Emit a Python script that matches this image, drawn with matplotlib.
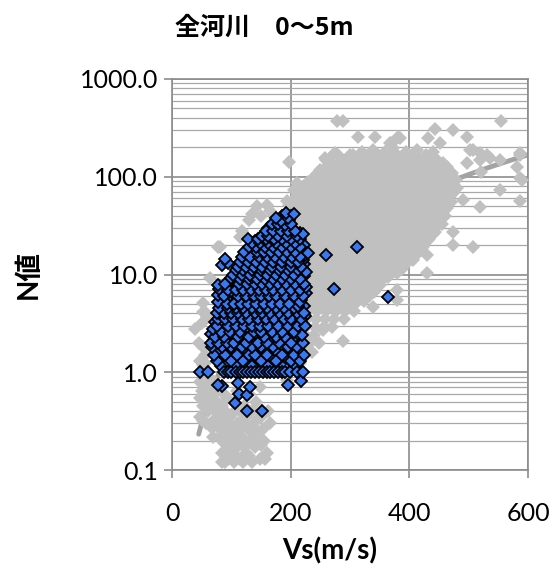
import numpy as np
import matplotlib
matplotlib.use('Agg')  # headless
import matplotlib.pyplot as plt
from matplotlib.ticker import FixedLocator, FuncFormatter, NullFormatter

# ---- data: (Vs [m/s], N) ----
# grey series: all depths / all rivers
gray_low = [
    (47, 0.55), (47, 0.35), (52, 0.45), (52, 0.32), (58, 0.7), (62, 0.9), (67, 0.27),
    (70, 0.6), (72, 0.4), (75, 0.5), (78, 0.3), (80, 0.22), (82, 0.35), (85, 0.15),
    (88, 0.25), (90, 0.12), (92, 0.18), (95, 0.3), (98, 0.14), (100, 0.2), (103, 0.38),
    (105, 0.12), (108, 0.25), (110, 0.17), (112, 0.3), (115, 0.13), (118, 0.22),
    (120, 0.32), (122, 0.45), (125, 0.15), (128, 0.27), (130, 0.6), (132, 0.2),
    (135, 0.4), (138, 0.3), (140, 0.17), (142, 0.5), (145, 0.24), (148, 0.13),
    (150, 0.35), (153, 0.26), (157, 0.13), (160, 0.15), (162, 0.4), (165, 0.3),
    (93, 0.55), (110, 0.65), (148, 0.7), (69, 0.22), (80, 0.38), (194, 0.83),
    (216, 1.24), (228, 1.56), (47, 1.3), (52, 1.8), (52, 1.2), (56, 1.23),
    (50, 0.65), (55, 0.5), (60, 0.4), (57, 0.3), (64, 0.55), (66, 0.75), (72, 0.8),
    (75, 0.65), (85, 0.45), (88, 0.6), (76, 0.4), (90, 0.4), (95, 0.22), (100, 0.28),
    (105, 0.5), (115, 0.4), (118, 0.28), (98, 0.18), (108, 0.14), (95, 0.13),
    (85, 0.12), (120, 0.12), (130, 0.14), (135, 0.12), (140, 0.22), (145, 0.33),
    (128, 0.19), (122, 0.17), (113, 0.21), (103, 0.16), (88, 0.19), (80, 0.27),
    (73, 0.33), (68, 0.45), (62, 0.6), (104, 0.25), (126, 0.36), (138, 0.26),
    (155, 0.2), (150, 0.18), (132, 0.25), (112, 0.45), (98, 0.35), (86, 0.32),
    (92, 0.26), (45, 2.0), (50, 3.2), (55, 1.5), (48, 0.8),
]
gray_edge = [
    (39, 2.8), (52, 4.1), (56, 4.1), (52, 5.1), (59, 3.7), (64, 9.2), (78, 19),
    (81, 19), (115, 24), (118, 28), (135, 42), (143, 50), (160, 51), (130, 36),
    (150, 40), (165, 45),
]
gray_main = [
    (222, 1.6), (236, 1.6),
    (218, 2.0), (232, 2.0), (247, 2.0), (288, 2.1),
    (224, 2.4), (240, 2.4), (255, 2.7),
    (226, 2.9), (241, 2.9), (256, 2.9), (270, 2.9),
    (228, 3.5), (243, 3.5), (258, 3.5), (273, 3.5), (290, 3.5),
    (230, 4.2), (245, 4.2), (260, 4.2), (276, 4.2), (292, 4.2), (306, 4.2), (339, 4.6),
    (232, 5), (247, 5), (262, 5), (277, 5), (293, 5), (309, 5), (324, 5.3),
    (230, 6), (245, 6), (260, 6), (275, 6), (290, 6), (305, 6), (317, 5.9), (333, 6.2),
    (379, 5.5),
    (228, 7.2), (243, 7.2), (258, 7.2), (272, 7.2), (287, 7.2), (302, 7.2), (316, 7.2),
    (331, 7.2), (345, 7.6), (379, 6.9),
    (226, 8.6), (240, 8.6), (255, 8.6), (270, 8.6), (285, 8.6), (300, 8.6), (314, 8.6),
    (329, 8.6), (343, 8.6), (358, 9.2),
    (224, 10.3), (238, 10.3), (253, 10.3), (268, 10.3), (282, 10.3), (297, 10.3),
    (312, 10.3), (326, 10.3), (341, 10.3), (350, 11), (365, 11.5), (379, 10.3), (430, 10.3),
    (222, 12.3), (236, 12.3), (250, 12.3), (265, 12.3), (280, 12.3), (295, 12.3),
    (309, 12.3), (324, 12.3), (338, 12.3), (353, 12.3), (367, 12.3), (382, 12.8), (396, 13),
    (220, 14.7), (234, 14.7), (248, 14.7), (263, 14.7), (277, 14.7), (292, 14.7),
    (306, 14.7), (321, 14.7), (336, 14.7), (350, 14.7), (365, 14.7), (384, 14), (406, 14),
    (216, 17.6), (230, 17.6), (245, 17.6), (259, 17.6), (274, 17.6), (289, 17.6),
    (303, 17.6), (318, 17.6), (332, 17.6), (347, 17.6), (362, 17.6), (376, 17.6),
    (391, 17.6), (405, 17.6), (420, 18), (430, 16),
    (212, 21), (226, 21), (241, 21), (255, 21), (270, 21), (285, 21), (299, 21),
    (314, 21), (329, 21), (343, 21), (358, 21), (372, 21), (387, 21), (401, 21),
    (416, 21), (430, 22), (474, 20), (507, 19),
    (208, 25), (222, 25), (237, 25), (252, 25), (266, 25), (281, 25), (295, 25),
    (310, 25), (325, 25), (339, 25), (354, 25), (368, 25), (383, 25), (397, 25),
    (412, 25), (426, 25), (440, 26), (474, 27),
    (205, 30), (219, 30), (233, 30), (248, 30), (262, 30), (277, 30), (292, 30),
    (306, 30), (321, 30), (335, 30), (350, 30), (364, 30), (379, 30), (393, 30),
    (408, 30), (422, 30), (437, 31), (450, 33),
    (202, 36), (216, 36), (230, 36), (245, 36), (259, 36), (274, 36), (288, 36),
    (303, 36), (318, 36), (332, 36), (347, 36), (361, 36), (376, 36), (390, 36),
    (405, 36), (419, 36), (434, 36), (448, 37), (460, 40),
    (200, 43), (214, 43), (228, 43), (242, 43), (257, 43), (271, 43), (286, 43),
    (300, 43), (315, 43), (329, 43), (344, 43), (358, 43), (373, 43), (387, 43),
    (402, 43), (416, 43), (431, 43), (445, 43), (458, 45),
    (198, 52), (212, 52), (226, 52), (240, 52), (255, 52), (269, 52), (284, 52),
    (298, 52), (313, 52), (327, 52), (342, 52), (356, 52), (371, 52), (385, 52),
    (400, 52), (414, 52), (429, 52), (443, 52), (457, 52), (470, 55), (519, 49),
    (194, 57), (210, 62), (224, 62), (238, 62), (253, 62), (267, 62), (282, 62),
    (296, 62), (311, 62), (325, 62), (340, 62), (354, 62), (369, 62), (383, 62),
    (398, 62), (412, 62), (427, 62), (441, 62), (455, 62), (468, 64), (490, 58), (587, 57),
    (205, 74), (220, 74), (235, 74), (250, 74), (264, 74), (279, 74), (293, 74),
    (308, 74), (322, 74), (337, 74), (351, 74), (366, 74), (380, 74), (395, 74),
    (409, 74), (424, 74), (438, 74), (452, 74), (466, 74), (480, 76), (553, 73),
    (211, 86), (236, 82), (230, 89), (245, 89), (259, 89), (274, 89), (288, 89),
    (303, 89), (317, 89), (332, 89), (346, 89), (361, 89), (375, 89), (390, 89),
    (404, 89), (419, 89), (433, 89), (448, 89), (462, 89), (478, 92), (590, 92),
    (249, 117), (244, 106), (258, 106), (270, 106), (285, 106), (299, 106), (314, 106),
    (328, 106), (343, 106), (357, 106), (372, 106), (386, 106), (401, 106), (415, 106),
    (430, 106), (444, 106), (458, 106), (472, 110), (520, 112),
    (262, 127), (276, 127), (290, 127), (305, 127), (319, 127), (334, 127), (348, 127),
    (363, 127), (377, 127), (392, 127), (406, 127), (421, 127), (435, 127), (450, 127),
    (464, 127), (497, 138), (581, 125), (587, 97),
    (258, 155), (271, 166), (295, 152), (305, 166), (325, 152), (340, 152), (355, 152),
    (370, 152), (385, 152), (400, 152), (415, 152), (430, 152), (445, 152), (519, 148),
    (553, 148), (260, 148),
    (275, 175), (339, 187), (372, 195), (413, 187), (502, 187), (507, 187), (531, 166),
    (587, 166), (320, 180), (360, 182), (395, 178), (440, 178),
    (367, 220), (371, 220), (452, 220), (536, 155), (519, 174), (587, 174),
]
# grey points between the rows above (the cloud is solid in the chart)
gray_fill = [
    (237, 4.6), (252, 4.6), (268, 4.6), (284, 4.6), (299, 4.6),
    (238, 5.5), (253, 5.5), (268, 5.5), (284, 5.5), (299, 5.5), (314, 5.5),
    (236, 6.6), (251, 6.6), (266, 6.6), (281, 6.6), (296, 6.6), (311, 6.6), (325, 6.6),
    (340, 6.6),
    (234, 7.9), (249, 7.9), (264, 7.9), (279, 7.9), (293, 7.9), (308, 7.9), (322, 7.9),
    (337, 7.9), (351, 7.9),
    (232, 9.4), (247, 9.4), (262, 9.4), (277, 9.4), (292, 9.4), (306, 9.4), (321, 9.4),
    (336, 9.4), (350, 9.4), (364, 9.4),
    (230, 11.3), (245, 11.3), (260, 11.3), (275, 11.3), (289, 11.3), (304, 11.3),
    (319, 11.3), (333, 11.3), (347, 11.3), (358, 11.3), (372, 11.3), (387, 11.3),
    (228, 13.4), (243, 13.4), (257, 13.4), (272, 13.4), (287, 13.4), (301, 13.4),
    (316, 13.4), (331, 13.4), (345, 13.4), (360, 13.4), (374, 13.4), (389, 13.4),
    (224, 16.1), (238, 16.1), (253, 16.1), (268, 16.1), (282, 16.1), (297, 16.1),
    (311, 16.1), (326, 16.1), (341, 16.1), (355, 16.1), (370, 16.1), (385, 16.1),
    (398, 16.1), (413, 16.1),
    (220, 19.2), (234, 19.2), (249, 19.2), (264, 19.2), (278, 19.2), (293, 19.2),
    (307, 19.2), (322, 19.2), (336, 19.2), (351, 19.2), (365, 19.2), (380, 19.2),
    (394, 19.2), (409, 19.2), (423, 19.2),
    (216, 23), (230, 23), (245, 23), (259, 23), (274, 23), (289, 23), (303, 23),
    (318, 23), (332, 23), (347, 23), (361, 23), (376, 23), (390, 23), (405, 23),
    (419, 23), (433, 23),
    (212, 27.4), (226, 27.4), (241, 27.4), (256, 27.4), (270, 27.4), (285, 27.4),
    (299, 27.4), (314, 27.4), (329, 27.4), (343, 27.4), (358, 27.4), (372, 27.4),
    (387, 27.4), (401, 27.4), (416, 27.4), (430, 27.4), (444, 27.4),
    (209, 33), (223, 33), (237, 33), (252, 33), (266, 33), (281, 33), (296, 33),
    (310, 33), (325, 33), (339, 33), (354, 33), (368, 33), (383, 33), (397, 33),
    (412, 33), (427, 33), (441, 33), (455, 33),
    (206, 39.5), (220, 39.5), (234, 39.5), (249, 39.5), (263, 39.5), (278, 39.5),
    (292, 39.5), (307, 39.5), (322, 39.5), (336, 39.5), (351, 39.5), (365, 39.5),
    (380, 39.5), (394, 39.5), (409, 39.5), (423, 39.5), (438, 39.5), (452, 39.5),
    (204, 47.5), (218, 47.5), (232, 47.5), (247, 47.5), (261, 47.5), (276, 47.5),
    (290, 47.5), (305, 47.5), (320, 47.5), (334, 47.5), (349, 47.5), (363, 47.5),
    (378, 47.5), (392, 47.5), (407, 47.5), (421, 47.5), (436, 47.5), (450, 47.5),
    (463, 47.5),
    (202, 57), (217, 57), (231, 57), (245, 57), (260, 57), (274, 57), (289, 57),
    (303, 57), (318, 57), (332, 57), (347, 57), (361, 57), (376, 57), (390, 57),
    (405, 57), (419, 57), (434, 57), (448, 57), (462, 57),
    (212, 68), (227, 68), (242, 68), (257, 68), (271, 68), (286, 68), (300, 68),
    (315, 68), (329, 68), (344, 68), (358, 68), (373, 68), (387, 68), (402, 68),
    (416, 68), (431, 68), (445, 68), (459, 68), (473, 68),
    (222, 81), (237, 81), (252, 81), (266, 81), (281, 81), (295, 81), (310, 81),
    (324, 81), (339, 81), (353, 81), (368, 81), (382, 81), (397, 81), (411, 81),
    (426, 81), (440, 81), (455, 81), (469, 81),
    (237, 97), (251, 97), (266, 97), (280, 97), (295, 97), (310, 97), (324, 97),
    (339, 97), (353, 97), (368, 97), (382, 97), (397, 97), (411, 97), (426, 97),
    (440, 97), (455, 97), (466, 97),
    (255, 116), (269, 116), (283, 116), (297, 116), (312, 116), (326, 116), (341, 116),
    (355, 116), (370, 116), (384, 116), (399, 116), (413, 116), (428, 116), (442, 116),
    (457, 116),
    (268, 139), (283, 139), (298, 139), (312, 139), (327, 139), (341, 139), (356, 139),
    (370, 139), (385, 139), (399, 139), (414, 139), (428, 139), (443, 139), (456, 139),
    (280, 167), (300, 167), (316, 167), (332, 167), (348, 167), (364, 167), (380, 167),
    (396, 167), (412, 167), (428, 167),
]
gray_top = [
    (197, 141), (278, 371), (288, 371), (314, 254), (342, 254), (381, 254),
    (384, 250), (431, 250), (443, 307), (474, 300), (497, 254), (555, 371),
]

# blue series: this river set, depth 0-5 m
blue_pts = [
    (126, 0.4), (152, 0.4), (106, 0.49), (113, 0.6), (126, 0.58), (131, 0.7),
    (84, 0.72), (78, 0.74), (196, 0.74), (217, 0.81), (111, 0.77),
    (47, 1), (61, 1), (88, 1), (95, 1), (100, 1), (108, 1), (114, 1), (120, 1),
    (127, 1), (133, 1), (140, 1), (147, 1), (153, 1), (160, 1), (165, 1), (172, 1),
    (178, 1), (185, 1), (190, 1), (199, 1), (210, 1), (220, 1),
    (75, 1.3), (100, 1.3), (120, 1.3), (150, 1.3), (175, 1.3), (200, 1.3), (215, 1.3),
    (70, 1.5), (90, 1.5), (110, 1.5), (130, 1.5), (140, 1.5), (160, 1.5), (185, 1.5),
    (205, 1.5), (222, 1.5),
    (68, 1.8), (85, 1.8), (100, 1.8), (118, 1.8), (135, 1.8), (150, 1.8), (170, 1.8),
    (195, 1.8), (210, 1.8),
    (65, 2), (78, 2), (92, 2), (105, 2), (125, 2), (145, 2), (160, 2), (180, 2),
    (200, 2), (220, 2),
    (72, 2.3), (88, 2.3), (112, 2.3), (130, 2.3), (155, 2.3), (175, 2.3), (190, 2.3),
    (219, 2.4),
    (69, 2.8), (82, 2.6), (98, 2.6), (115, 2.6), (138, 2.6), (150, 2.6), (168, 2.6),
    (185, 2.6), (205, 2.6),
    (75, 3), (85, 3.4), (95, 3), (108, 3), (122, 3), (135, 3), (148, 3), (162, 3),
    (178, 3), (195, 3), (212, 3), (224, 3),
    (78, 3.5), (90, 3.5), (103, 3.5), (118, 3.5), (130, 3.5), (145, 3.5), (158, 3.5),
    (172, 3.5), (188, 3.5), (200, 3.5), (218, 3.5),
    (76, 4), (88, 4), (100, 4), (112, 4), (125, 4), (140, 4), (152, 4), (165, 4),
    (180, 4), (195, 4), (210, 4), (222, 4),
    (80, 4.5), (95, 4.5), (108, 4.5), (120, 4.5), (135, 4.5), (148, 4.5), (160, 4.5),
    (175, 4.5), (188, 4.5), (205, 4.5), (212, 4.8),
    (78, 5.2), (92, 5), (104, 5), (116, 5), (128, 5), (142, 5), (155, 5), (168, 5),
    (182, 5), (198, 5), (215, 5.2),
    (78, 6.1), (88, 6), (101, 6.6), (112, 6), (125, 6), (138, 6), (150, 6), (163, 6),
    (176, 6), (190, 6), (205, 6), (220, 6),
    (80, 7.1), (95, 7), (108, 7), (120, 7), (133, 7), (146, 7), (158, 7), (171, 7),
    (185, 7), (200, 7), (215, 7), (225, 7.5),
    (78, 7.8), (90, 8), (113, 8), (126, 8), (140, 8), (152, 8), (165, 8), (178, 8),
    (192, 8), (208, 8), (222, 8),
    (100, 9.2), (115, 9), (130, 9), (135, 9.4), (144, 9), (157, 9), (170, 9), (185, 9),
    (200, 9), (215, 9),
    (103, 10), (118, 10), (132, 10), (148, 10), (160, 10), (175, 10), (190, 10),
    (205, 10), (225, 10.5),
    (108, 11), (120, 11), (135, 11), (150, 11), (165, 11), (180, 11), (196, 11), (212, 11),
    (84, 12.5), (94, 13), (89, 14.3), (112, 12), (124, 12), (138, 12), (152, 12),
    (168, 12), (183, 12), (200, 12), (218, 12),
    (115, 13.5), (128, 13.5), (142, 13.5), (156, 13.5), (170, 13.5), (185, 13.5),
    (200, 13.5), (213, 13.5),
    (118, 15), (132, 15), (146, 15), (160, 15), (174, 15), (188, 15), (202, 15),
    (216, 15), (229, 16.5),
    (122, 17), (143, 17), (155, 17), (167, 17), (180, 17), (194, 17), (208, 17),
    (130, 19), (142, 19), (156, 19), (170, 19), (185, 19), (200, 19), (215, 19),
    (135, 21), (148, 21), (162, 21), (176, 21), (192, 21), (207, 21),
    (128, 23), (145, 23), (158, 23), (172, 23), (186, 23), (200, 23), (215, 23),
    (152, 25), (162, 25), (178, 25), (193, 25), (210, 25), (221, 26),
    (158, 28), (170, 28), (183, 28), (196, 28), (208, 28),
    (168, 33), (178, 33), (190, 32), (200, 33), (184, 35),
    (175, 38), (195, 38), (192, 43), (205, 42),
    (273, 7.1), (364, 5.9), (312, 19), (259, 15.7),
]
# more blue points in between (the blob is packed in the chart)
blue_fill = [
    (82, 1.15), (110, 1.15), (135, 1.15), (162, 1.15), (188, 1.15), (208, 1.15),
    (80, 1.4), (100, 1.4), (122, 1.4), (145, 1.4), (168, 1.4), (192, 1.4), (212, 1.4),
    (78, 1.65), (96, 1.65), (126, 1.65), (145, 1.65), (175, 1.65), (198, 1.65),
    (216, 1.65),
    (70, 2.15), (84, 2.15), (98, 2.15), (115, 2.15), (135, 2.15), (152, 2.15),
    (170, 2.15), (190, 2.15), (210, 2.15),
    (66, 2.45), (80, 2.45), (96, 2.45), (120, 2.45), (140, 2.45), (162, 2.45),
    (182, 2.45), (200, 2.45), (212, 2.45),
    (75, 2.75), (90, 2.75), (106, 2.75), (126, 2.75), (144, 2.75), (158, 2.75),
    (176, 2.75), (195, 2.75), (214, 2.75),
    (72, 3.25), (88, 3.25), (100, 3.25), (115, 3.25), (128, 3.25), (141, 3.25),
    (155, 3.25), (170, 3.25), (186, 3.25), (203, 3.25), (218, 3.25),
    (84, 3.75), (96, 3.75), (110, 3.75), (124, 3.75), (137, 3.75), (152, 3.75),
    (165, 3.75), (180, 3.75), (194, 3.75), (210, 3.75), (224, 3.75),
    (82, 4.25), (94, 4.25), (106, 4.25), (118, 4.25), (132, 4.25), (146, 4.25),
    (158, 4.25), (172, 4.25), (186, 4.25), (202, 4.25), (216, 4.25),
    (86, 4.75), (100, 4.75), (114, 4.75), (126, 4.75), (141, 4.75), (154, 4.75),
    (167, 4.75), (181, 4.75), (195, 4.75), (208, 4.75), (222, 4.75),
    (84, 5.5), (98, 5.5), (110, 5.5), (122, 5.5), (135, 5.5), (148, 5.5), (161, 5.5),
    (175, 5.5), (190, 5.5), (205, 5.5), (218, 5.5),
    (82, 6.5), (94, 6.5), (106, 6.5), (118, 6.5), (131, 6.5), (144, 6.5), (156, 6.5),
    (169, 6.5), (183, 6.5), (197, 6.5), (212, 6.5), (226, 6.5),
    (88, 7.5), (102, 7.5), (114, 7.5), (127, 7.5), (140, 7.5), (152, 7.5), (165, 7.5),
    (178, 7.5), (192, 7.5), (207, 7.5), (220, 7.5),
    (96, 8.5), (107, 8.5), (120, 8.5), (133, 8.5), (146, 8.5), (158, 8.5), (171, 8.5),
    (185, 8.5), (200, 8.5), (214, 8.5),
    (108, 9.6), (122, 9.6), (138, 9.6), (152, 9.6), (165, 9.6), (180, 9.6), (195, 9.6),
    (210, 9.6), (222, 9.6),
    (112, 10.5), (126, 10.5), (140, 10.5), (155, 10.5), (168, 10.5), (183, 10.5),
    (198, 10.5), (216, 10.5),
    (114, 11.5), (128, 11.5), (143, 11.5), (158, 11.5), (172, 11.5), (188, 11.5),
    (204, 11.5), (220, 11.5),
    (118, 12.8), (131, 12.8), (146, 12.8), (162, 12.8), (177, 12.8), (192, 12.8),
    (208, 12.8), (222, 12.8),
    (122, 14.2), (136, 14.2), (150, 14.2), (164, 14.2), (178, 14.2), (193, 14.2),
    (207, 14.2), (220, 14.2),
    (126, 16), (139, 16), (152, 16), (166, 16), (181, 16), (196, 16), (210, 16),
    (224, 16),
    (135, 18), (148, 18), (162, 18), (175, 18), (189, 18), (203, 18), (218, 18),
    (138, 20), (152, 20), (166, 20), (180, 20), (195, 20), (210, 20), (222, 20),
    (140, 22), (152, 22), (166, 22), (180, 22), (193, 22), (208, 22),
    (150, 24), (168, 24), (184, 24), (198, 24), (214, 24),
    (156, 26.5), (175, 26.5), (190, 26.5), (204, 26.5), (215, 26.5),
    (162, 30), (176, 30), (190, 30), (203, 30),
    (182, 36), (198, 36), (185, 40), (200, 40),
]

# power trendline N = a * Vs^b as drawn
trend_a = 1.47e-5
trend_b = 2.54
trend_vs = [45, 600]

title = "全河川　0～5m"
x_ticks = [0, 200, 400, 600]
y_ticks = [0.1, 1, 10, 100, 1000]

# ---- plot ----
plt.rcParams['font.family'] = ['Lato', 'Noto Sans CJK JP', 'DejaVu Sans']

fig = plt.figure(figsize=(5.52, 5.72), dpi=100)
ax = fig.add_axes([172 / 552, 1 - 470 / 572, 356 / 552, 391 / 572])

gray = np.array(gray_low + gray_edge + gray_main + gray_fill + gray_top, dtype=float)
blue = np.array(blue_fill + blue_pts, dtype=float)

vs_line = np.linspace(trend_vs[0], trend_vs[1], 200)
ax.plot(vs_line, trend_a * vs_line ** trend_b, color='#a3a3a3', lw=3.5,
        solid_capstyle='round', zorder=2)
ax.plot(gray[:, 0], gray[:, 1], ls='none', marker='D', ms=7.4,
        mfc='#c0c0c0', mec='#c0c0c0', mew=0, zorder=3)
ax.plot(blue[:, 0], blue[:, 1], ls='none', marker='D', ms=5.7,
        mfc='#3a78f2', mec='black', mew=1.3, zorder=4)

ax.set_yscale('log')
ax.set_xlim(0, 600)
ax.set_ylim(0.1, 1000)

ax.xaxis.set_major_locator(FixedLocator(x_ticks))
ax.yaxis.set_major_locator(FixedLocator(y_ticks))
ax.yaxis.set_minor_locator(FixedLocator(
    [m * 10.0 ** e for e in range(-1, 3) for m in range(2, 10)]))
ax.yaxis.set_minor_formatter(NullFormatter())
ax.yaxis.set_major_formatter(FuncFormatter(lambda v, p: f"{v:.1f}"))

ax.grid(True, which='major', color='#8c8c8c', lw=1.2, zorder=0)
ax.grid(True, which='minor', axis='y', color='#a8a8a8', lw=0.9, zorder=0)
ax.set_axisbelow(True)
for s in ax.spines.values():
    s.set_color('#8c8c8c')
    s.set_linewidth(1.2)

ax.tick_params(axis='y', which='major', length=6, width=1.2, color='#8c8c8c',
               labelsize=18, pad=4)
ax.tick_params(axis='y', which='minor', length=0)
ax.tick_params(axis='x', length=6, width=1.2, color='#8c8c8c',
               labelsize=18, pad=17)

fig.text(330 / 552, 1 - 551 / 572, "Vs(m/s)", ha='center', va='center',
         fontsize=20, fontweight='bold')
fig.text(0.052, 0.52, "N値", rotation=90, ha='center', va='center',
         fontsize=20, fontweight='bold')
fig.text(0.478, 0.951, title, ha='center', va='center', fontsize=18,
         fontweight='bold', family=['Noto Sans CJK JP'])

fig.savefig("out.png", dpi=100)
